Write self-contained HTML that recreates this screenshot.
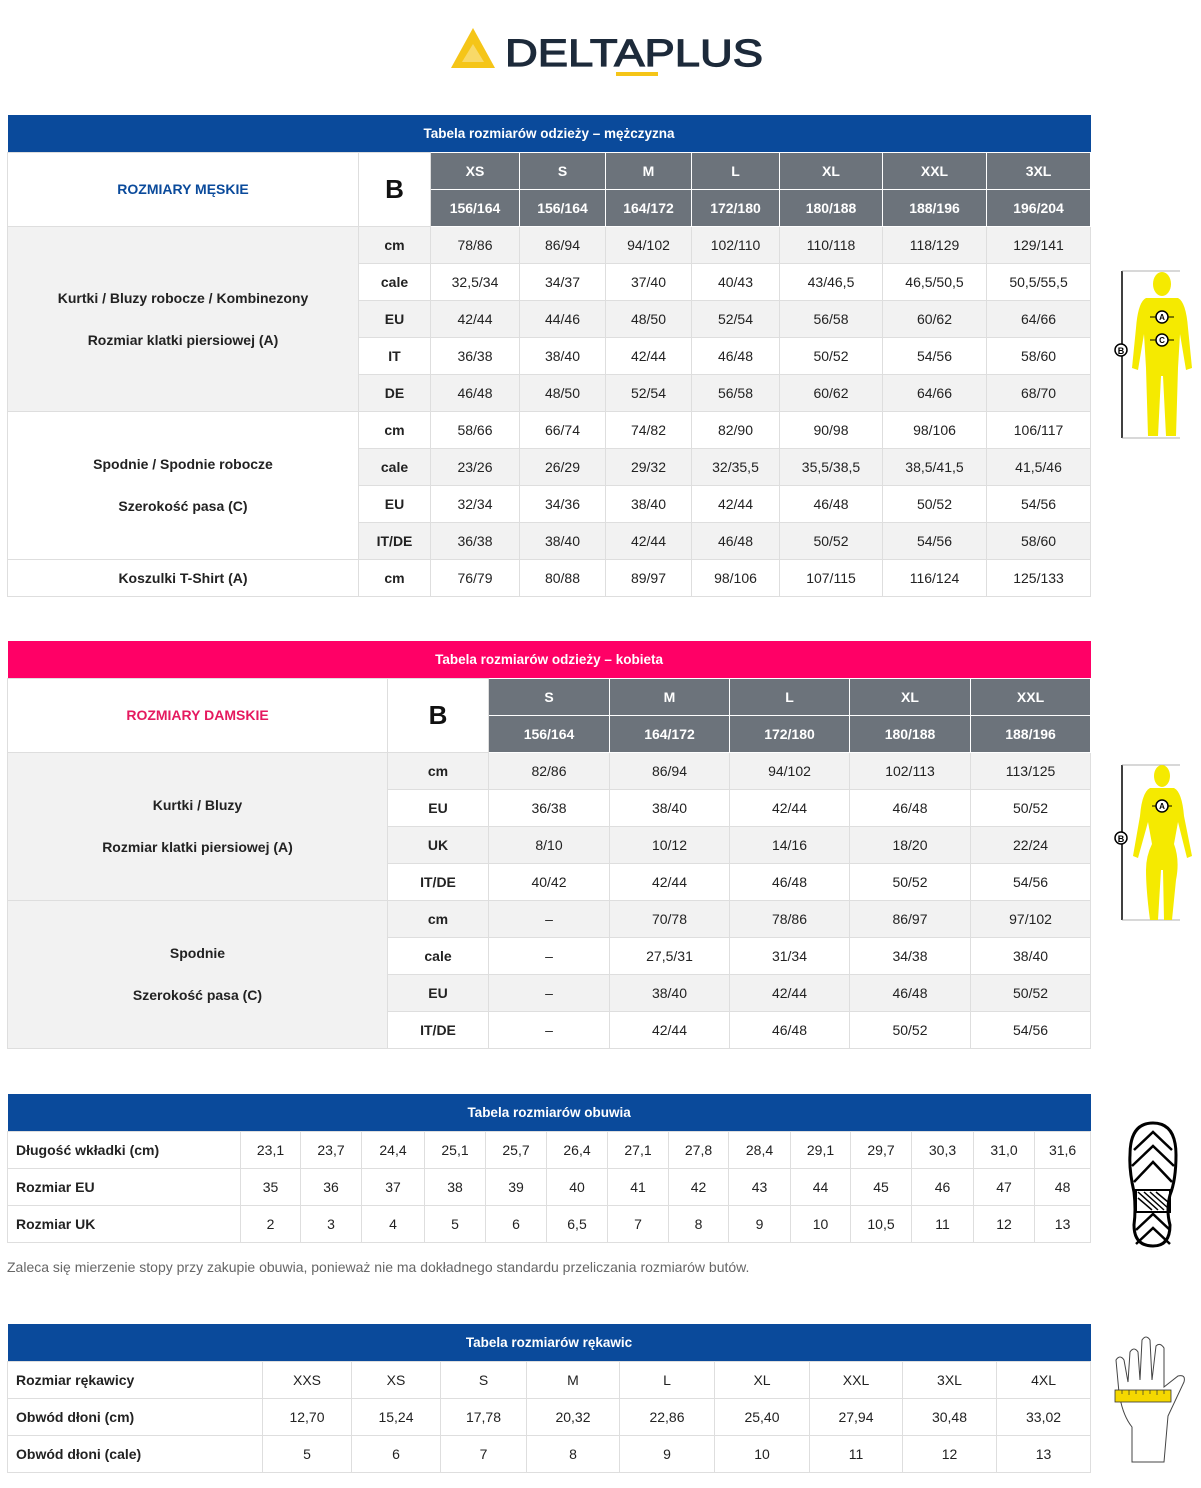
<!DOCTYPE html>
<html><head><meta charset="utf-8">
<style>
*{margin:0;padding:0;box-sizing:border-box}
body{width:1201px;height:1488px;background:#fff;position:relative;overflow:hidden;font-family:"Liberation Sans Narrow","Liberation Sans",sans-serif;color:#222}
table{position:absolute;left:7px;width:1083px;border-collapse:collapse;table-layout:fixed;font-size:14px}
td{border:1px solid #dedede;text-align:center;height:37px;padding:0;white-space:nowrap}
.bar td{color:#fff;font-weight:bold;font-size:13.5px;border:none;height:37px}
.blue td{background:#0a4a9b}
.pink td{background:#ff0066}
.g td.s{background:#6c737b;color:#fff;font-weight:bold;border:1px solid #fff;font-size:14px}
.gr td{background:#f2f2f2}
td.u{font-weight:bold}
td.l{font-weight:bold}
td.lw{background:#fff!important}
td.lg{background:#f2f2f2!important}
td.L{text-align:left;padding-left:8px;font-weight:bold}
.B{font-size:26px;font-weight:bold;font-family:"Liberation Sans",sans-serif;color:#111}
.note{position:absolute;left:7px;top:1259px;font-size:14px;color:#666}
</style></head><body>

<svg style="position:absolute;left:448px;top:26px" width="330" height="52">
<polygon points="25,2 47,42 3,42" fill="#f5c518"/>
<polygon points="25,18 36,36 14,36" fill="#fff" opacity="0.35"/>
<text x="57" y="40" font-family="Liberation Sans,sans-serif" font-size="38" fill="#1d2a3a" textLength="258" lengthAdjust="spacingAndGlyphs" stroke="#1d2a3a" stroke-width="1.2">DELTAPLUS</text>
<rect x="168" y="46" width="42" height="4" fill="#f5c518"/>
</svg>

<table style="top:115px">
<colgroup><col style="width:351px"><col style="width:72px"><col style="width:89px"><col style="width:86px"><col style="width:86px"><col style="width:88px"><col style="width:103px"><col style="width:104px"><col style="width:104px"></colgroup>
<tr class="bar blue"><td colspan="9">Tabela rozmiarów odzieży – mężczyzna</td></tr>
<tr class="g"><td rowspan="2" class="l" style="color:#0a4a9b">ROZMIARY MĘSKIE</td><td rowspan="2" class="B">B</td><td class="s">XS</td><td class="s">S</td><td class="s">M</td><td class="s">L</td><td class="s">XL</td><td class="s">XXL</td><td class="s">3XL</td></tr>
<tr class="g"><td class="s">156/164</td><td class="s">156/164</td><td class="s">164/172</td><td class="s">172/180</td><td class="s">180/188</td><td class="s">188/196</td><td class="s">196/204</td></tr>
<tr class="gr"><td rowspan="5" class="l lg" style="line-height:42px">Kurtki / Bluzy robocze / Kombinezony<br>Rozmiar klatki piersiowej (A)</td><td class="u">cm</td><td>78/86</td><td>86/94</td><td>94/102</td><td>102/110</td><td>110/118</td><td>118/129</td><td>129/141</td></tr>
<tr><td class="u">cale</td><td>32,5/34</td><td>34/37</td><td>37/40</td><td>40/43</td><td>43/46,5</td><td>46,5/50,5</td><td>50,5/55,5</td></tr>
<tr class="gr"><td class="u">EU</td><td>42/44</td><td>44/46</td><td>48/50</td><td>52/54</td><td>56/58</td><td>60/62</td><td>64/66</td></tr>
<tr><td class="u">IT</td><td>36/38</td><td>38/40</td><td>42/44</td><td>46/48</td><td>50/52</td><td>54/56</td><td>58/60</td></tr>
<tr class="gr"><td class="u">DE</td><td>46/48</td><td>48/50</td><td>52/54</td><td>56/58</td><td>60/62</td><td>64/66</td><td>68/70</td></tr>
<tr><td rowspan="4" class="l lw" style="line-height:42px">Spodnie / Spodnie robocze<br>Szerokość pasa (C)</td><td class="u">cm</td><td>58/66</td><td>66/74</td><td>74/82</td><td>82/90</td><td>90/98</td><td>98/106</td><td>106/117</td></tr>
<tr class="gr"><td class="u">cale</td><td>23/26</td><td>26/29</td><td>29/32</td><td>32/35,5</td><td>35,5/38,5</td><td>38,5/41,5</td><td>41,5/46</td></tr>
<tr><td class="u">EU</td><td>32/34</td><td>34/36</td><td>38/40</td><td>42/44</td><td>46/48</td><td>50/52</td><td>54/56</td></tr>
<tr class="gr"><td class="u">IT/DE</td><td>36/38</td><td>38/40</td><td>42/44</td><td>46/48</td><td>50/52</td><td>54/56</td><td>58/60</td></tr>
<tr><td class="l">Koszulki T-Shirt (A)</td><td class="u">cm</td><td>76/79</td><td>80/88</td><td>89/97</td><td>98/106</td><td>107/115</td><td>116/124</td><td>125/133</td></tr>
</table>

<table style="top:641px">
<colgroup><col style="width:380px"><col style="width:101px"><col style="width:121px"><col style="width:120px"><col style="width:120px"><col style="width:121px"><col style="width:120px"></colgroup>
<tr class="bar pink"><td colspan="7">Tabela rozmiarów odzieży – kobieta</td></tr>
<tr class="g"><td rowspan="2" class="l" style="color:#e5195f">ROZMIARY DAMSKIE</td><td rowspan="2" class="B">B</td><td class="s">S</td><td class="s">M</td><td class="s">L</td><td class="s">XL</td><td class="s">XXL</td></tr>
<tr class="g"><td class="s">156/164</td><td class="s">164/172</td><td class="s">172/180</td><td class="s">180/188</td><td class="s">188/196</td></tr>
<tr class="gr"><td rowspan="4" class="l lg" style="line-height:42px">Kurtki / Bluzy<br>Rozmiar klatki piersiowej (A)</td><td class="u">cm</td><td>82/86</td><td>86/94</td><td>94/102</td><td>102/113</td><td>113/125</td></tr>
<tr><td class="u">EU</td><td>36/38</td><td>38/40</td><td>42/44</td><td>46/48</td><td>50/52</td></tr>
<tr class="gr"><td class="u">UK</td><td>8/10</td><td>10/12</td><td>14/16</td><td>18/20</td><td>22/24</td></tr>
<tr><td class="u">IT/DE</td><td>40/42</td><td>42/44</td><td>46/48</td><td>50/52</td><td>54/56</td></tr>
<tr class="gr"><td rowspan="4" class="l lg" style="line-height:42px">Spodnie<br>Szerokość pasa (C)</td><td class="u">cm</td><td>–</td><td>70/78</td><td>78/86</td><td>86/97</td><td>97/102</td></tr>
<tr><td class="u">cale</td><td>–</td><td>27,5/31</td><td>31/34</td><td>34/38</td><td>38/40</td></tr>
<tr class="gr"><td class="u">EU</td><td>–</td><td>38/40</td><td>42/44</td><td>46/48</td><td>50/52</td></tr>
<tr><td class="u">IT/DE</td><td>–</td><td>42/44</td><td>46/48</td><td>50/52</td><td>54/56</td></tr>
</table>

<table style="top:1094px">
<colgroup><col style="width:233px"><col style="width:60px"><col style="width:61px"><col style="width:63px"><col style="width:61px"><col style="width:61px"><col style="width:61px"><col style="width:61px"><col style="width:60px"><col style="width:62px"><col style="width:60px"><col style="width:61px"><col style="width:62px"><col style="width:61px"><col style="width:56px"></colgroup>
<tr class="bar blue"><td colspan="15">Tabela rozmiarów obuwia</td></tr>
<tr><td class="L">Długość wkładki (cm)</td><td>23,1</td><td>23,7</td><td>24,4</td><td>25,1</td><td>25,7</td><td>26,4</td><td>27,1</td><td>27,8</td><td>28,4</td><td>29,1</td><td>29,7</td><td>30,3</td><td>31,0</td><td>31,6</td></tr>
<tr><td class="L">Rozmiar EU</td><td>35</td><td>36</td><td>37</td><td>38</td><td>39</td><td>40</td><td>41</td><td>42</td><td>43</td><td>44</td><td>45</td><td>46</td><td>47</td><td>48</td></tr>
<tr><td class="L">Rozmiar UK</td><td>2</td><td>3</td><td>4</td><td>5</td><td>6</td><td>6,5</td><td>7</td><td>8</td><td>9</td><td>10</td><td>10,5</td><td>11</td><td>12</td><td>13</td></tr>
</table>

<div class="note">Zaleca się mierzenie stopy przy zakupie obuwia, ponieważ nie ma dokładnego standardu przeliczania rozmiarów butów.</div>

<table style="top:1324px">
<colgroup><col style="width:255px"><col style="width:89px"><col style="width:89px"><col style="width:86px"><col style="width:93px"><col style="width:95px"><col style="width:95px"><col style="width:93px"><col style="width:94px"><col style="width:94px"></colgroup>
<tr class="bar blue"><td colspan="10">Tabela rozmiarów rękawic</td></tr>
<tr><td class="L">Rozmiar rękawicy</td><td>XXS</td><td>XS</td><td>S</td><td>M</td><td>L</td><td>XL</td><td>XXL</td><td>3XL</td><td>4XL</td></tr>
<tr><td class="L">Obwód dłoni (cm)</td><td>12,70</td><td>15,24</td><td>17,78</td><td>20,32</td><td>22,86</td><td>25,40</td><td>27,94</td><td>30,48</td><td>33,02</td></tr>
<tr><td class="L">Obwód dłoni (cale)</td><td>5</td><td>6</td><td>7</td><td>8</td><td>9</td><td>10</td><td>11</td><td>12</td><td>13</td></tr>
</table>

<svg style="position:absolute;left:1110px;top:268px" width="91" height="175">
<line x1="12" y1="3" x2="12" y2="170" stroke="#000" stroke-width="1.5"/>
<line x1="12" y1="3" x2="70" y2="3" stroke="#999" stroke-width="0.7"/>
<line x1="12" y1="170" x2="70" y2="170" stroke="#999" stroke-width="0.7"/>
<ellipse cx="52" cy="16" rx="9" ry="12" fill="#f5ea00"/>
<path d="M36,30 L68,30 Q76,34 78,60 L82,100 L76,102 L70,66 L68,100 L66,168 L56,168 L53,108 L51,108 L48,168 L38,168 L36,100 L34,66 L28,102 L22,100 L26,60 Q28,34 36,30Z" fill="#f5ea00"/>
<circle cx="11" cy="82" r="6" fill="#fff" stroke="#000" stroke-width="1.5"/><text x="11" y="86" font-size="9" text-anchor="middle" font-weight="bold" font-family="Liberation Sans">B</text>
<line x1="40" y1="49" x2="64" y2="49" stroke="#000"/><circle cx="52" cy="49" r="6" fill="#fff" stroke="#000" stroke-width="1.5"/><text x="52" y="52" font-size="8" text-anchor="middle" font-weight="bold" font-family="Liberation Sans">A</text>
<line x1="40" y1="72" x2="64" y2="72" stroke="#000"/><circle cx="52" cy="72" r="6" fill="#fff" stroke="#000" stroke-width="1.5"/><text x="52" y="75" font-size="8" text-anchor="middle" font-weight="bold" font-family="Liberation Sans">C</text>
</svg>

<svg style="position:absolute;left:1110px;top:760px" width="91" height="165">
<line x1="12" y1="5" x2="12" y2="160" stroke="#000" stroke-width="1.5"/>
<line x1="12" y1="5" x2="70" y2="5" stroke="#999" stroke-width="0.7"/>
<line x1="12" y1="160" x2="70" y2="160" stroke="#999" stroke-width="0.7"/>
<ellipse cx="52" cy="16" rx="8" ry="11" fill="#f5ea00"/>
<path d="M40,28 L64,28 Q72,32 74,56 L82,96 L77,98 L68,62 L64,84 Q70,100 66,120 L62,160 L54,160 L53,110 L51,110 L48,160 L40,160 Q36,130 36,110 Q36,96 42,84 L38,62 L28,98 L23,96 L30,56 Q32,32 40,28Z" fill="#f5ea00"/>
<circle cx="11" cy="78" r="6" fill="#fff" stroke="#000" stroke-width="1.5"/><text x="11" y="82" font-size="9" text-anchor="middle" font-weight="bold" font-family="Liberation Sans">B</text>
<line x1="42" y1="46" x2="62" y2="46" stroke="#000"/><circle cx="52" cy="46" r="6" fill="#fff" stroke="#000" stroke-width="1.5"/><text x="52" y="49" font-size="8" text-anchor="middle" font-weight="bold" font-family="Liberation Sans">A</text>
</svg>

<svg style="position:absolute;left:1126px;top:1120px" width="55" height="130">
<path d="M27,3 Q50,3 50,35 Q50,60 44,75 Q40,90 44,105 Q44,126 27,126 Q8,126 8,105 Q10,90 8,72 Q3,50 4,35 Q4,3 27,3Z" fill="#fff" stroke="#000" stroke-width="3"/>
<path d="M8,30 L27,12 L46,30 M6,46 L27,26 L48,46 M8,62 L27,42 L46,62 M10,110 L27,94 L44,110 M10,124 L27,108 L44,124" fill="none" stroke="#000" stroke-width="2.5"/>
<rect x="10" y="70" width="34" height="22" fill="none" stroke="#000" stroke-width="2"/>
<path d="M12,72 L32,90 M18,72 L38,90 M24,72 L42,88 M30,72 L42,82 M12,78 L26,90" stroke="#000" stroke-width="1.5"/>
</svg>

<svg style="position:absolute;left:1112px;top:1332px" width="85" height="135">
<path d="M20,130 L20,95 Q8,80 6,50 L4,28 Q8,22 12,28 L16,50 L18,20 Q22,14 26,20 L28,48 L30,8 Q34,2 38,8 L40,48 L44,14 Q48,10 52,16 L52,55 L66,44 Q74,42 72,50 L56,84 L52,130Z" fill="#fff" stroke="#444" stroke-width="1"/>
<rect x="3" y="58" width="56" height="12" fill="#f5d800" stroke="#333" stroke-width="0.8"/>
<path d="M10,58v4M17,58v5M24,58v4M31,58v5M38,58v4M45,58v5M52,58v4" stroke="#333" stroke-width="0.7"/>
</svg>

</body></html>
